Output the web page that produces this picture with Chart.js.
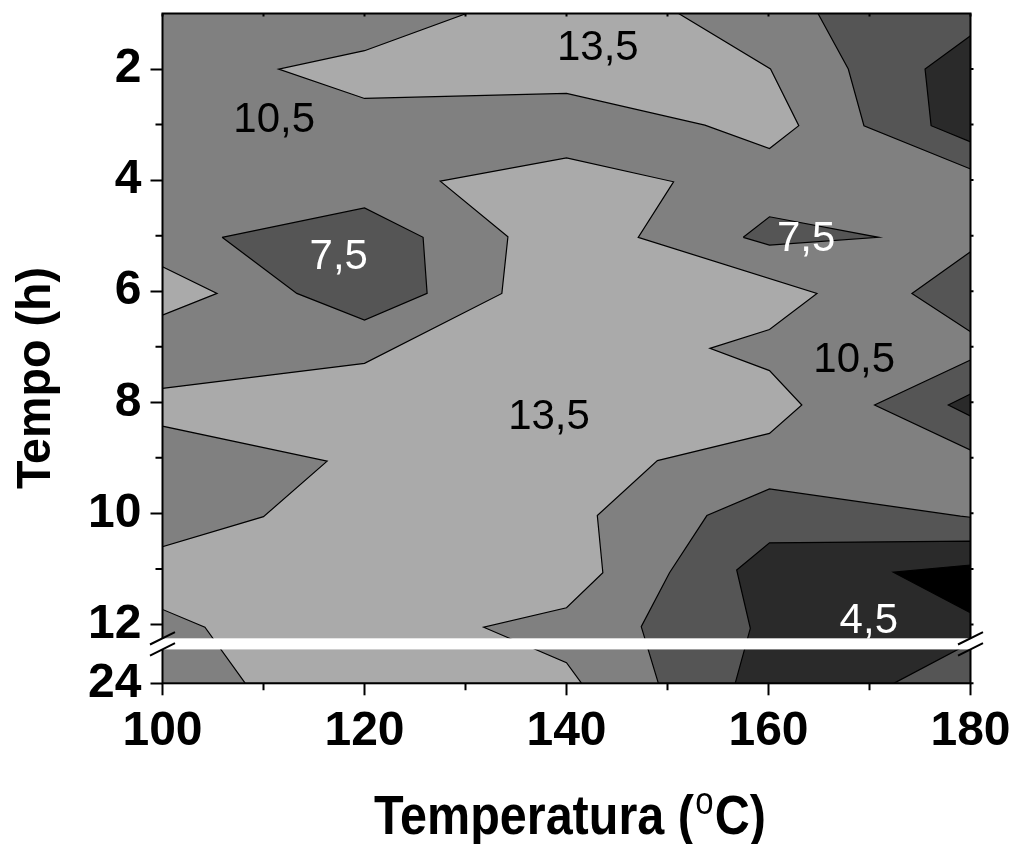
<!DOCTYPE html>
<html>
<head>
<meta charset="utf-8">
<script src="https://cdn.jsdelivr.net/npm/chart.js@4.4.1/dist/chart.umd.min.js"></script>
<style>
  html, body { margin: 0; padding: 0; background: #ffffff; }
  canvas { display: block; }
</style>
</head>
<body>
<canvas id="chart" width="1015" height="844"></canvas>
<script>
// ---------------- data ----------------
// y values are positions on the time axis; the 24 h row sits just after the axis break.
const Y24 = 13.06;
const xMajorTicks = [100, 120, 140, 160, 180];
const xMinorTicks = [110, 130, 150, 170];
const yMajorTicks = [2, 4, 6, 8, 10, 12, Y24];
const yTickLabels = ['2', '4', '6', '8', '10', '12', '24'];
const yMinorTicks = [3, 5, 7, 9, 11];
const axisBreak = [12.25, 12.45];

// contour band colours
const colorMid   = '#808080';   // 10,5 – 13,5 (background band)
const colorLight = '#aaaaaa';   // > 13,5
const colorDark  = '#555555';   // 7,5 – 10,5
const colorDarker = '#2a2a2a';  // 4,5 – 7,5
const colorBlack = '#000000';   // < 4,5

// contour polygons: [temperature °C, time-axis position]
const lightTop = [[130.1,1],[120,1.67],[111.5,2],[120,2.53],[140,2.44],[153.7,3.01],[160.1,3.43],[163,3.02],[160.2,2.0],[151.1,1]];
const lightMain = [[100,7.75],[120,7.3],[133.6,6.04],[134.2,5.02],[127.5,4.02],[140,3.6],[150.6,4.03],[147.1,5.03],[164.8,6.04],[160.1,6.69],[154.2,7.03],[160.1,7.43],[163.3,8.05],[160.1,8.56],[149,9.05],[143.05,10.04],[143.6,11.07],[140,11.7],[131.8,12.05],[140,12.69],[141.5,Y24],[108.2,Y24],[104.2,12.05],[100,11.73],[100,10.6],[110,10.06],[116.3,9.06],[100,8.43]];
const lightLeft = [[100,5.56],[105.4,6.04],[100,6.43]];
const darkTopRight = [[164.9,1],[167.9,2],[169.45,3.02],[180,3.8],[180,1]];
const darkLeft = [[105.9,5.03],[120,4.5],[125.8,5.03],[126.2,6.04],[120,6.52],[113.3,6.04]];
const darkMid = [[157.5,5.03],[160.1,4.66],[170.9,5.03],[160.1,5.17]];
const darkRight6 = [[180,5.29],[174.2,6.04],[180,6.73]];
const darkRight8 = [[180,7.24],[170.5,8.05],[180,8.86]];
const darkBottom = [[180,10.07],[179,10.05],[160.1,9.56],[153.9,10.04],[150.2,11.07],[147.4,12.04],[149.1,Y24],[180,Y24]];
const darkerTopRight = [[180,1.4],[175.5,2],[176.1,3.02],[180,3.31]];
const darkerRight8 = [[180,7.85],[177.8,8.05],[180,8.25]];
const darkerBottom = [[180,10.5],[160.1,10.53],[156.85,11.02],[158.2,12.07],[156.7,Y24],[172.4,Y24],[180,12.33]];
const blackBottom = [[180,10.93],[172.35,11.06],[180,11.79]];

// contour labels
const labelTexts  = ['13,5', '10,5', '7,5', '7,5', '10,5', '13,5', '4,5'];
const labelX      = [143.1, 111.06, 117.45, 163.73, 168.48, 138.27, 169.93];
const labelY      = [1.56, 2.86, 5.33, 5.01, 7.18, 8.21, 11.88];
const labelColors = ['#000', '#000', '#fff', '#fff', '#000', '#000', '#fff'];

const xTitleA = 'Temperatura (';
const xTitleSup = 'o';
const xTitleB = 'C)';
const yTitle = 'Tempo (h)';

// ---------------- chart ----------------
const regions = [
  [lightTop, colorLight], [lightMain, colorLight], [lightLeft, colorLight],
  [darkTopRight, colorDark], [darkLeft, colorDark], [darkMid, colorDark],
  [darkRight6, colorDark], [darkRight8, colorDark], [darkBottom, colorDark],
  [darkerTopRight, colorDarker], [darkerRight8, colorDarker], [darkerBottom, colorDarker],
  [blackBottom, colorBlack]
];

const datasets = regions.map(([poly, col], i) => ({
  data: poly.concat([poly[0]]).map(([x, y]) => ({ x, y })),
  showLine: true,
  borderColor: '#000',
  borderWidth: 1.2,
  backgroundColor: col,
  pointRadius: 0,
  pointHoverRadius: 0,
  fill: false,
  tension: 0,
  order: regions.length - i
}));

const FONT = '"Liberation Sans", Arial, Helvetica, sans-serif';

const contourPlugin = {
  id: 'contour',
  beforeDatasetsDraw(chart) {
    const { ctx, chartArea: a } = chart;
    ctx.save();
    ctx.fillStyle = colorMid;
    ctx.fillRect(a.left, a.top, a.right - a.left, a.bottom - a.top);
    ctx.restore();
  },
  beforeDatasetDraw(chart, args) {
    const ctx = chart.ctx;
    const pts = args.meta.data;
    const ds = chart.data.datasets[args.index];
    ctx.save();
    ctx.beginPath();
    pts.forEach((p, i) => (i ? ctx.lineTo(p.x, p.y) : ctx.moveTo(p.x, p.y)));
    ctx.closePath();
    ctx.fillStyle = ds.backgroundColor;
    ctx.fill();
    ctx.restore();
  },
  afterDatasetsDraw(chart) {
    const { ctx, scales: { x, y } } = chart;
    ctx.save();
    ctx.font = '42px ' + FONT;
    ctx.textAlign = 'center';
    ctx.textBaseline = 'alphabetic';
    labelTexts.forEach((t, i) => {
      ctx.fillStyle = labelColors[i];
      ctx.fillText(t, x.getPixelForValue(labelX[i]), y.getPixelForValue(labelY[i]) + 15);
    });
    ctx.restore();
  },
  afterDraw(chart) {
    const { ctx, chartArea: a, scales: { x, y } } = chart;
    ctx.save();
    ctx.strokeStyle = '#000';
    ctx.lineWidth = 2;
    // minor ticks
    ctx.beginPath();
    xMinorTicks.forEach(v => { const px = x.getPixelForValue(v); ctx.moveTo(px, a.bottom); ctx.lineTo(px, a.bottom + 7); });
    yMinorTicks.forEach(v => { const py = y.getPixelForValue(v); ctx.moveTo(a.left, py); ctx.lineTo(a.left - 7, py); });
    // small ticks on top / right
    xMajorTicks.concat(xMinorTicks).forEach(v => { const px = x.getPixelForValue(v); ctx.moveTo(px, a.top); ctx.lineTo(px, a.top + 3); });
    yMajorTicks.concat(yMinorTicks).forEach(v => { const py = y.getPixelForValue(v); ctx.moveTo(a.right, py); ctx.lineTo(a.right + 3, py); });
    ctx.stroke();
    // frame
    ctx.strokeRect(a.left, a.top, a.right - a.left, a.bottom - a.top);
    // axis break
    const b1 = y.getPixelForValue(axisBreak[0]);
    const b2 = y.getPixelForValue(axisBreak[1]);
    ctx.fillStyle = '#ffffff';
    ctx.fillRect(a.left - 2, b1, a.right - a.left + 4, b2 - b1);
    ctx.beginPath();
    [a.left, a.right].forEach(ex => {
      [b1, b2].forEach(by => { ctx.moveTo(ex - 12.5, by + 6.2); ctx.lineTo(ex + 12.5, by - 6.2); });
    });
    ctx.stroke();
    // axis titles
    ctx.fillStyle = '#000';
    ctx.textBaseline = 'alphabetic';
    ctx.textAlign = 'left';
    // x title
    ctx.font = 'bold 56px ' + FONT;
    const wA = ctx.measureText(xTitleA).width;
    const wB = ctx.measureText(xTitleB).width;
    ctx.font = '38px ' + FONT;
    const wS = ctx.measureText(xTitleSup).width;
    const total = wA + wS + 3 + wB;
    const targetW = 392;
    const sx = targetW / total;
    const cx = 570, base = 834;
    ctx.save();
    ctx.translate(cx - targetW / 2, base);
    ctx.scale(sx, 1);
    ctx.font = 'bold 56px ' + FONT;
    ctx.fillText(xTitleA, 0, 0);
    ctx.font = '38px ' + FONT;
    ctx.fillText(xTitleSup, wA + 1.5, -20);
    ctx.font = 'bold 56px ' + FONT;
    ctx.fillText(xTitleB, wA + wS + 3, 0);
    ctx.restore();
    // y title
    ctx.save();
    ctx.font = 'bold 49px ' + FONT;
    const wy = ctx.measureText(yTitle).width;
    const sy = 222 / wy;
    ctx.translate(50, 378);
    ctx.rotate(-Math.PI / 2);
    ctx.scale(sy, 1);
    ctx.textAlign = 'center';
    ctx.fillText(yTitle, 0, 0);
    ctx.restore();
    ctx.restore();
  }
};

new Chart(document.getElementById('chart'), {
  type: 'scatter',
  data: { datasets },
  options: {
    responsive: false,
    animation: false,
    devicePixelRatio: 1,
    layout: { padding: { top: 13.5, right: 44.5, left: 0, bottom: 0 } },
    plugins: { legend: { display: false }, tooltip: { enabled: false } },
    events: [],
    scales: {
      x: {
        type: 'linear',
        position: 'bottom',
        min: 100,
        max: 180,
        afterBuildTicks: s => { s.ticks = xMajorTicks.map(v => ({ value: v })); },
        afterFit: s => { s.height = 160.7; s.paddingLeft = 0; s.paddingRight = 0; s.paddingTop = 0; s.paddingBottom = 0; },
        border: { display: false },
        grid: { display: true, drawOnChartArea: false, drawTicks: true, tickLength: 12, tickWidth: 2, tickColor: '#000' },
        ticks: { color: '#000', font: { family: FONT, size: 48, weight: 'bold' }, padding: 8, maxRotation: 0, autoSkip: false }
      },
      y: {
        type: 'linear',
        position: 'left',
        reverse: true,
        min: 1,
        max: Y24,
        afterBuildTicks: s => { s.ticks = yMajorTicks.map(v => ({ value: v })); },
        afterFit: s => { s.width = 162.5; s.paddingLeft = 0; s.paddingRight = 0; s.paddingTop = 0; s.paddingBottom = 0; },
        border: { display: false },
        grid: { display: true, drawOnChartArea: false, drawTicks: true, tickLength: 12, tickWidth: 2, tickColor: '#000' },
        ticks: {
          color: '#000',
          font: { family: FONT, size: 48, weight: 'bold' },
          padding: 9,
          autoSkip: false,
          callback: v => { const k = yMajorTicks.indexOf(v); return k >= 0 ? yTickLabels[k] : ''; }
        }
      }
    }
  },
  plugins: [contourPlugin]
});
</script>
</body>
</html>
